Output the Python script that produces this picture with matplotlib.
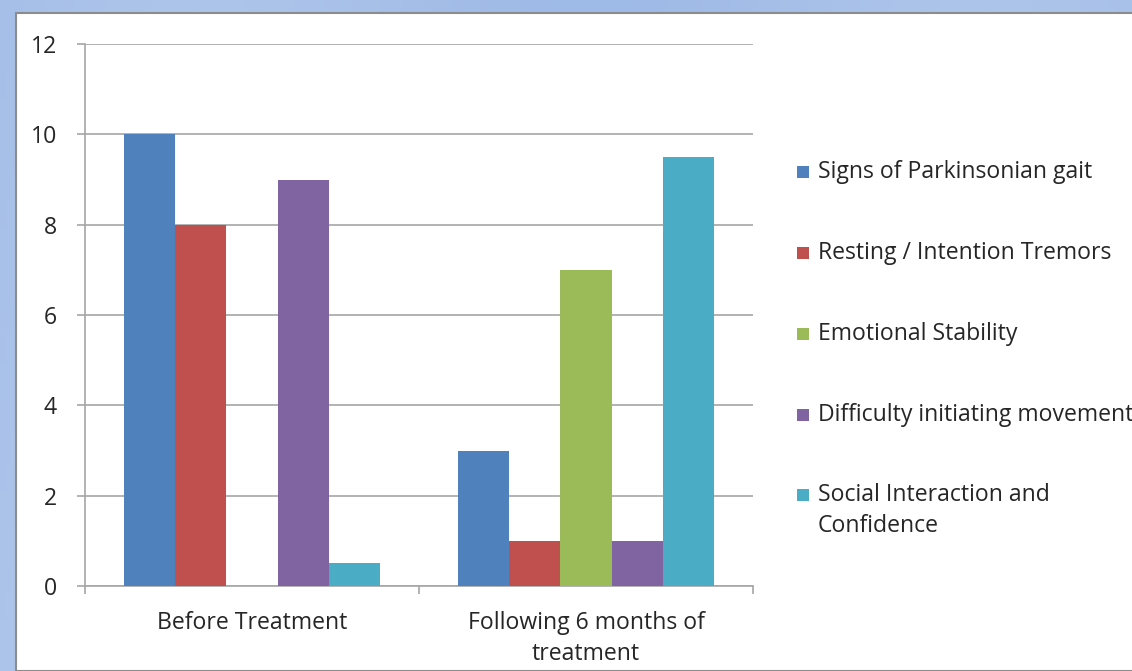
import numpy as np
import matplotlib
matplotlib.use("Agg")
import matplotlib.pyplot as plt
from matplotlib.patches import Rectangle

categories = ["Before Treatment", "Following 6 months of\ntreatment"]
series_names = ["Signs of Parkinsonian gait", "Resting / Intention Tremors",
                "Emotional Stability", "Difficulty initiating movement",
                "Social Interaction and\nConfidence"]
before_vals = [10, 8, 0, 9, 0.5]
after_vals = [3, 1, 7, 1, 9.5]
colors = ["#4F81BD", "#C0504D", "#9BBB59", "#8064A2", "#4BACC6"]
y_ticks = [0, 2, 4, 6, 8, 10, 12]

W, H = 1132, 671
FS = 16.6
TXT = '#262626'
fig = plt.figure(figsize=(W / 100, H / 100), dpi=100)
plt.rcParams['font.family'] = ['Open Sans', 'DejaVu Sans']

# background gradient
bg = fig.add_axes([0, 0, 1, 1], zorder=-10)
gx = np.linspace(0, 1, 200)
gy = np.linspace(0, 1, 120)
GX, GY = np.meshgrid(gx, gy)
c1 = np.array([0.58, 0.70, 0.89])
c2 = np.array([0.72, 0.80, 0.93])
t = (0.5 + 0.5 * np.sin(GX * 9) * 0.4 + GY * 0.2)[..., None]
img = c1 * (1 - t) + c2 * t
bg.imshow(np.clip(img, 0, 1), aspect='auto', extent=[0, 1, 0, 1])
bg.set_xlim(0, 1); bg.set_ylim(0, 1)
bg.axis('off')
# white panel
bg.add_patch(Rectangle((16 / W, 0), 1, 1 - 13 / H, transform=bg.transAxes,
                       facecolor='white', edgecolor='#8C8C8C', linewidth=1.5, zorder=2))

ax = fig.add_axes([85 / W, (H - 586) / H, (753 - 85) / W, (586 - 44) / H])
ax.set_facecolor('none')
n = len(series_names)
w = 1 / 6.5
x = np.arange(len(categories))
for i in range(n):
    vals = [before_vals[i], after_vals[i]]
    ax.bar(x + (i - (n - 1) / 2) * w, vals, width=w, color=colors[i],
           label=series_names[i], zorder=3, linewidth=0)

ax.set_xlim(-0.5, 1.5)
ax.set_ylim(0, 12)
ax.set_yticks(y_ticks)
ax.set_yticklabels([str(v) for v in y_ticks], fontsize=FS, color=TXT)
ax.yaxis.grid(True, color='#A6A6A6', linewidth=1.2, zorder=0)
ax.set_axisbelow(True)
ax.set_xticks(x)
ax.set_xticklabels(categories, fontsize=FS, color=TXT, linespacing=1.4)
ax.set_xticks([-0.5, 0.5, 1.5], minor=True)
ax.tick_params(axis='x', which='major', length=0, pad=18)
ax.tick_params(axis='x', which='minor', length=6, color='#A6A6A6', width=1.2)
ax.tick_params(axis='y', length=6, color='#A6A6A6', width=1.2, pad=14)
for s in ['top', 'right']:
    ax.spines[s].set_visible(False)
for s in ['left', 'bottom']:
    ax.spines[s].set_color('#A6A6A6')
    ax.spines[s].set_linewidth(1.2)

# legend drawn manually
leg_y = [172, 253, 334, 415, 495]
for i in range(n):
    yy = leg_y[i]
    fig.patches.append(Rectangle((797 / W, (H - yy - 6) / H), 12 / W, 12 / H,
                                 transform=fig.transFigure, facecolor=colors[i],
                                 edgecolor='none', figure=fig))
    lines = series_names[i].split('\n')
    for j, ln in enumerate(lines):
        fig.text(818 / W, (H - yy - j * 31) / H, ln, fontsize=FS, color=TXT,
                 va='center', ha='left')

fig.savefig("out.png", dpi=100)
